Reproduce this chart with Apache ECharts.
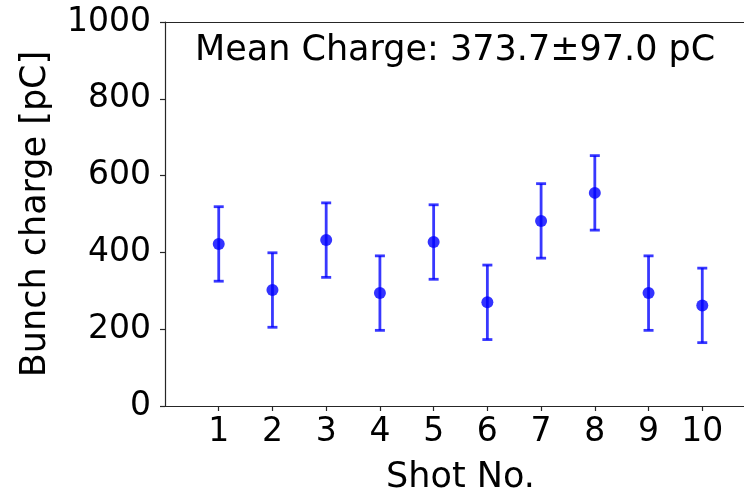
<!DOCTYPE html>
<html>
<head>
<meta charset="utf-8">
<script src="https://cdn.jsdelivr.net/npm/echarts@6/dist/echarts.min.js"></script>
<style>html,body{margin:0;padding:0;background:#fff}#c{width:744px;height:488px}</style>
</head>
<body>
<div id="c"></div>
<script>
const shots = [1, 2, 3, 4, 5, 6, 7, 8, 9, 10];
const charge = [422, 302, 432, 294, 427, 270, 482, 555, 294, 262];
const errors = [97, 97, 97, 97, 97, 97, 97, 97, 97, 97];
const yTicks = [0, 200, 400, 600, 800, 1000];
const titleText = 'Mean Charge: 373.7\u00b197.0 pC';

const FONT = 'DejaVu Sans';
const AX = '#262626';
const chart = echarts.init(document.getElementById('c'), null, {renderer: 'canvas'});
const pts = shots.map((s, i) => [s, charge[i]]);
const errData = shots.map((s, i) => [s, charge[i] - errors[i], charge[i] + errors[i]]);

chart.setOption({
  animation: false,
  backgroundColor: '#fff',
  title: {
    text: titleText,
    left: 190, top: 28,
    textStyle: {fontFamily: FONT, fontSize: 35, fontWeight: 'normal', color: '#000'}
  },
  grid: {left: 165, right: -12, top: 22, bottom: 82, containLabel: false, outerBoundsMode: 'none'},
  xAxis: [{
    type: 'value', min: 0, max: 11,
    name: 'Shot No.', nameLocation: 'middle', nameGap: 54,
    nameTextStyle: {fontFamily: FONT, fontSize: 35, color: '#000'},
    axisLine: {show: true, onZero: false, lineStyle: {color: AX, width: 1.2}},
    axisTick: {show: true, length: 5, lineStyle: {color: AX, width: 1.2}, customValues: shots},
    axisLabel: {fontFamily: FONT, fontSize: 33, color: '#000', margin: 10, customValues: shots},
    splitLine: {show: false}
  }, {
    type: 'value', min: 0, max: 11, position: 'top',
    axisLine: {show: true, onZero: false, lineStyle: {color: AX, width: 1.2}},
    axisTick: {show: false}, axisLabel: {show: false}, splitLine: {show: false}
  }],
  yAxis: {
    type: 'value', min: 0, max: 1000, interval: 200,
    name: 'Bunch charge [pC]', nameLocation: 'middle', nameGap: 112,
    nameTextStyle: {fontFamily: FONT, fontSize: 35, color: '#000'},
    axisLine: {show: true, lineStyle: {color: AX, width: 1.2}},
    axisTick: {show: true, length: 5, lineStyle: {color: AX, width: 1.2}, customValues: yTicks},
    axisLabel: {fontFamily: FONT, fontSize: 33, color: '#000', margin: 14, customValues: yTicks,
      formatter: v => String(v)},
    splitLine: {show: false}
  },
  series: [
    {
      type: 'custom',
      data: errData,
      renderItem: function (params, api) {
        const x = api.value(0);
        const lo = api.coord([x, api.value(1)]);
        const hi = api.coord([x, api.value(2)]);
        const cap = 5;
        const style = {stroke: 'rgba(0,0,255,0.78)', lineWidth: 2.8};
        return {
          type: 'group',
          children: [
            {type: 'line', shape: {x1: lo[0], y1: lo[1], x2: hi[0], y2: hi[1]}, style: style},
            {type: 'line', shape: {x1: lo[0] - cap, y1: lo[1], x2: lo[0] + cap, y2: lo[1]}, style: style},
            {type: 'line', shape: {x1: hi[0] - cap, y1: hi[1], x2: hi[0] + cap, y2: hi[1]}, style: style}
          ]
        };
      },
      z: 2
    },
    {
      type: 'scatter',
      data: pts,
      symbol: 'circle',
      symbolSize: 12,
      itemStyle: {color: '#0000ff'},
      z: 3
    }
  ]
});
</script>
</body>
</html>
